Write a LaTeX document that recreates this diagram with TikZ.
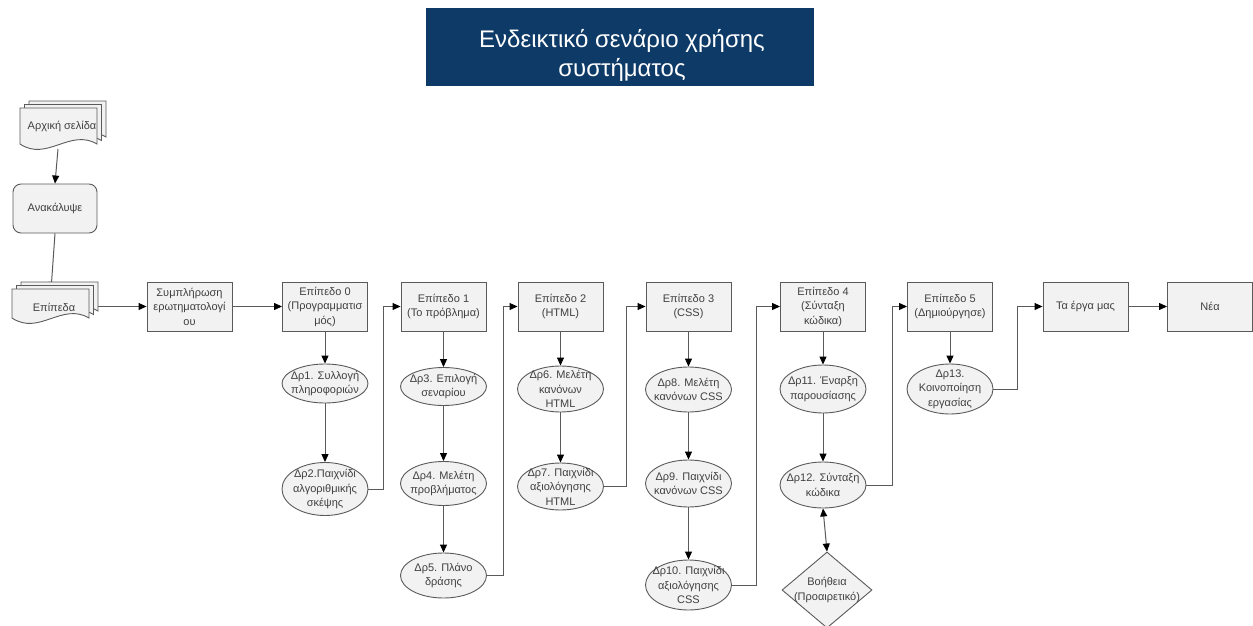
\documentclass[tikz,border=0pt]{standalone}
\usepackage{fontspec}
\setmainfont{Liberation Sans}
\usetikzlibrary{shapes.geometric,arrows.meta,calc}

\definecolor{navy}{HTML}{0E3A68}
\definecolor{boxfill}{HTML}{F2F2F2}
\definecolor{edge}{HTML}{5A5A5A}
\definecolor{ink}{HTML}{404040}

% one sheet of a document symbol: x0, top, width, height down to the wave
\newcommand{\docsheet}[4]{%
  \filldraw[docline] (#1,#2) -- ({#1+#3},#2) -- ({#1+#3},{#2+#4})
    .. controls ({#1+0.65*#3},{#2+#4-16}) and ({#1+0.35*#3},{#2+#4+18}) ..
    (#1,{#2+#4}) -- cycle;}
% a stack of three sheets
\newcommand{\multidoc}[4]{%
  \foreach \k in {2,1,0} {\docsheet{#1+4.5*\k}{#2-3.5*\k}{#3}{#4}}}

\begin{document}
\begin{tikzpicture}[x=1pt,y=-1pt,
  every node/.style={font=\fontsize{11}{14.5}\selectfont, text=ink},
  docline/.style={draw=edge, fill=boxfill, line width=0.9pt},
  stepbox/.style={draw=edge, fill=boxfill, line width=0.9pt, minimum width=85pt,
    minimum height=49pt, inner sep=0pt, align=center},
  roundbox/.style={stepbox, rounded corners=8pt, minimum width=84pt},
  act/.style={draw=edge, fill=boxfill, ellipse, line width=0.9pt,
    minimum width=86pt, inner sep=0pt},
  acttext/.style={align=center, inner sep=0pt},
  helpbox/.style={draw=edge, fill=boxfill, diamond, line width=0.9pt,
    minimum width=90pt, minimum height=76pt, inner sep=0pt},
  arr/.style={draw=edge, line width=1pt, -{Triangle[length=8pt,width=7pt,color=black]}},
  biarr/.style={draw=edge, line width=1pt,
    {Triangle[length=8pt,width=7pt,color=black]}-{Triangle[length=8pt,width=7pt,color=black]}},
]
\useasboundingbox (0,0) rectangle (1253,626);

% heading
\node[fill=navy, minimum width=388pt, minimum height=78pt, inner sep=0pt] (title) at (620,47) {};
\node[text=white, align=center, inner sep=0pt,
  font=\fontsize{24}{29}\selectfont] (titlet) at (622,55)
  {Ενδεικτικό σενάριο χρήσης\\συστήματος};

% left column: home page, discover, levels
\multidoc{20}{108}{77}{36}
\node[acttext] (home) at (62,126) {Αρχική σελίδα};
\coordinate (homeb) at (58,149);
\node[roundbox] (anak) at (55,208.5) {Ανακάλυψε};
\draw[arr] (homeb) -- (anak.north);
\coordinate (levtop) at (51,290);
\draw[arr] (anak.south) -- (levtop);
\multidoc{12}{289}{77}{29}
\node[acttext] (levs) at (54,307) {Επίπεδα};
\coordinate (levsr) at (98,306.5);

% main row
\node[stepbox] (symp) at (189.5,306.5) {Συμπλήρωση\\ερωτηματολογί\\ου};
\node[stepbox] (ep0) at (325,306.5) {Επίπεδο 0\\(Προγραμματισ\\μός)};
\node[stepbox] (ep1) at (443.5,306.5) {Επίπεδο 1\\(Το πρόβλημα)};
\node[stepbox] (ep2) at (560.5,306.5) {Επίπεδο 2\\(HTML)};
\node[stepbox] (ep3) at (688.5,306.5) {Επίπεδο 3\\(CSS)};
\node[stepbox] (ep4) at (823,306.5) {Επίπεδο 4\\(Σύνταξη\\κώδικα)};
\node[stepbox] (ep5) at (950,306.5) {Επίπεδο 5\\(Δημιούργησε)};
\node[stepbox] (erga) at (1085.5,306.5) {Τα έργα μας};
\node[stepbox] (nea) at (1210,306.5) {Νέα};

% activities
\node[act, minimum height=39pt] (d1) at (325,383.5) {};
\node[acttext] (d1t) at (d1) {Δρ1. Συλλογή\\πληροφοριών};
\node[act, minimum height=53pt] (d2) at (325,489) {};
\node[acttext] (d2t) at (d2) {Δρ2.Παιχνίδι\\αλγοριθμικής\\σκέψης};
\node[act, minimum height=38pt] (d3) at (443.5,386.5) {};
\node[acttext] (d3t) at (d3) {Δρ3. Επιλογή\\σεναρίου};
\node[act, minimum height=44pt] (d4) at (443.5,483.5) {};
\node[acttext] (d4t) at (d4) {Δρ4. Μελέτη\\προβλήματος};
\node[act, minimum height=45pt] (d5) at (443.5,575.5) {};
\node[acttext] (d5t) at (d5) {Δρ5. Πλάνο\\δράσης};
\node[act, minimum height=46pt] (d6) at (560.5,389) {};
\node[acttext] (d6t) at (d6) {Δρ6. Μελέτη\\κανόνων\\HTML};
\node[act, minimum height=47pt] (d7) at (560.5,486.5) {};
\node[acttext] (d7t) at (d7) {Δρ7. Παιχνίδι\\αξιολόγησης\\HTML};
\node[act, minimum height=45pt] (d8) at (688.5,389.5) {};
\node[acttext] (d8t) at (d8) {Δρ8. Μελέτη\\κανόνων CSS};
\node[act, minimum height=47pt] (d9) at (688.5,483.5) {};
\node[acttext] (d9t) at (d9) {Δρ9. Παιχνίδι\\κανόνων CSS};
\node[act, minimum height=50pt] (d10) at (688.5,585) {};
\node[acttext] (d10t) at (d10) {Δρ10. Παιχνίδι\\αξιολόγησης\\CSS};
\node[act, minimum height=48pt] (d11) at (823,389) {};
\node[acttext] (d11t) at (d11) {Δρ11. Έναρξη\\παρουσίασης};
\node[act, minimum height=46pt] (d12) at (823,485) {};
\node[acttext] (d12t) at (d12) {Δρ12. Σύνταξη\\κώδικα};
\node[act, minimum height=50pt] (d13) at (950,389) {};
\node[acttext] (d13t) at (d13) {Δρ13.\\Κοινοποίηση\\εργασίας};
\node[helpbox] (help) at (827,590) {};
\node[acttext] (helpt) at (help) {Βοήθεια\\(Προαιρετικό)};

% flow along the row
\draw[arr] (levsr) -- (symp.west);
\draw[arr] (symp.east) -- (ep0.west);
\draw[arr] (erga.east) -- (nea.west);

% down each column
\draw[arr] (ep0.south) -- (d1.north);
\draw[arr] (d1.south) -- (d2.north);
\draw[arr] (ep1.south) -- (d3.north);
\draw[arr] (d3.south) -- (d4.north);
\draw[arr] (d4.south) -- (d5.north);
\draw[arr] (ep2.south) -- (d6.north);
\draw[arr] (d6.south) -- (d7.north);
\draw[arr] (ep3.south) -- (d8.north);
\draw[arr] (d8.south) -- (d9.north);
\draw[arr] (d9.south) -- (d10.north);
\draw[arr] (ep4.south) -- (d11.north);
\draw[arr] (d11.south) -- (d12.north);
\draw[arr] (ep5.south) -- (d13.north);
\draw[biarr] (d12.south) -- (help.north);

% from the last activity of a level up to the next level
\draw[arr] (d2.east) -- ++(15,0) |- (ep1.west);
\draw[arr] (d5.east) -- ++(16.5,0) |- (ep2.west);
\draw[arr] (d7.east) -- ++(22.5,0) |- (ep3.west);
\draw[arr] (d10.east) -- ++(24.5,0) |- (ep4.west);
\draw[arr] (d12.east) -- ++(26,0) |- (ep5.west);
\draw[arr] (d13.east) -- ++(24,0) |- (erga.west);
\end{tikzpicture}
\end{document}
